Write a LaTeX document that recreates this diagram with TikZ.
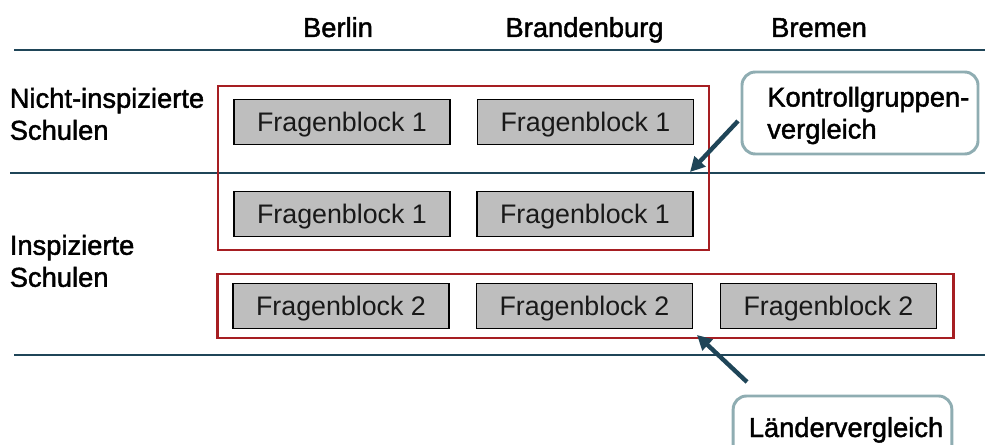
\documentclass[tikz,border=0pt]{standalone}
\usepackage{fontspec}
\setmainfont{Liberation Sans}
\newfontfamily\heavyfont[FakeBold=1.6]{Liberation Sans}
\usetikzlibrary{arrows.meta}
\definecolor{teal}{HTML}{1F4558}
\definecolor{calloutedge}{HTML}{8FADB2}
\definecolor{redbox}{HTML}{A61E22}
\definecolor{greyfill}{HTML}{BEBEBE}
\tikzset{
  x=0.75pt, y=-0.75pt,
  rule/.style={draw=teal},
  redframe/.style={draw=redbox, fill=none, inner sep=0pt},
  fbox/.style={draw=black, line width=1.1pt, fill=greyfill, minimum width=162pt, minimum height=33.5pt, inner sep=0pt, text height=14.5pt, text depth=0pt, font=\fontsize{20.1}{24}\selectfont, text=black!90},
  heading/.style={font=\heavyfont\fontsize{20.5}{24}\selectfont, text=black, inner sep=0pt},
  basehead/.style={heading, anchor=base},
  sidelabel/.style={heading, anchor=west, align=left},
  callout/.style={draw=calloutedge, line width=2.2pt, rounded corners=10pt, fill=white, inner sep=0pt},
  pointer/.style={draw=teal, line width=3.3pt, -{Triangle[length=11pt,width=11pt]}},
}
\begin{document}
\begin{tikzpicture}
\useasboundingbox (0,0) rectangle (985,445);
\clip (0,0) rectangle (985,445);
% rules
\coordinate (r1a) at (14,50); \coordinate (r1b) at (985,50);
\coordinate (r2a) at (10,173); \coordinate (r2b) at (985,173);
\coordinate (r3a) at (14,355); \coordinate (r3b) at (985,355);
\draw[rule, line width=1pt] (r1a) -- (r1b);
\draw[rule, line width=2.1pt] (r2a) -- (r2b);
\draw[rule, line width=1pt] (r3a) -- (r3b);
% column headings
\node[basehead] (berlin) at (338,37) {Berlin};
\node[basehead] (brand) at (584.5,37) {Brandenburg};
\node[basehead] (bremen) at (819,37) {Bremen};
% row labels
\node[sidelabel] (nicht) at (9.5,114) {Nicht-inspizierte\\Schulen};
\node[sidelabel] (insp) at (9.5,261) {Inspizierte\\Schulen};
% red frames
\node[redframe, line width=1.6pt, minimum width=368pt, minimum height=123pt] (frameA) at (463.5,168) {};
\node[redframe, line width=2.1pt, minimum width=552.5pt, minimum height=48pt] (frameB) at (585.5,306) {};
% blocks
\node[fbox] (a1) at (342,122) {Fragenblock 1};
\node[fbox] (a2) at (585.5,122) {Fragenblock 1};
\node[fbox] (b1) at (342,214) {Fragenblock 1};
\node[fbox] (b2) at (585,214) {Fragenblock 1};
\node[fbox] (c1) at (341,306) {Fragenblock 2};
\node[fbox] (c2) at (584.5,306) {Fragenblock 2};
\node[fbox] (c3) at (828.5,306) {Fragenblock 2};
% callouts
\node[callout, minimum width=177pt, minimum height=61.5pt] (kg) at (860,113) {};
\node[heading, anchor=west, align=left] (kgt) at (767,115.5) {Kontrollgruppen-\\vergleich};
\node[callout, minimum width=164pt, minimum height=60pt] (lv) at (842.5,436) {};
\node[heading, anchor=base] (lvt) at (846,437) {Ländervergleich};
% pointers
\coordinate (p1s) at (738,121); \coordinate (p1e) at (690,172);
\coordinate (p2s) at (747,382); \coordinate (p2e) at (697,335);
\draw[pointer] (p1s) -- (p1e);
\draw[pointer] (p2s) -- (p2e);
\end{tikzpicture}
\end{document}
